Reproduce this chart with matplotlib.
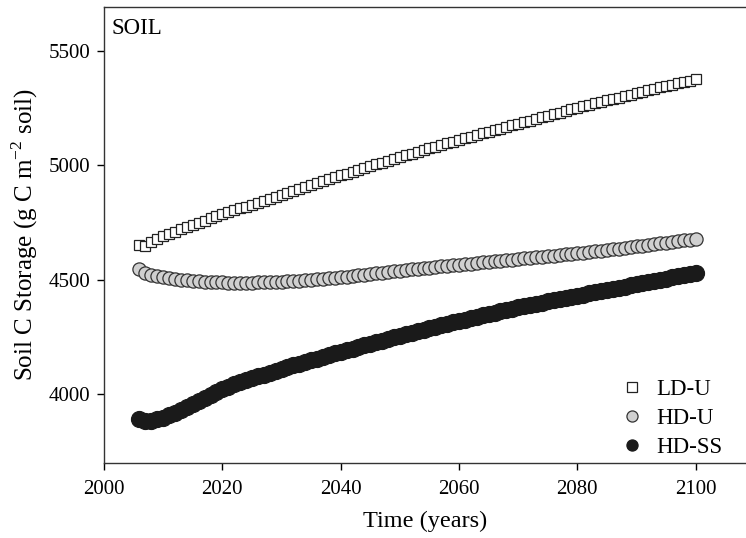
import numpy as np
import matplotlib
matplotlib.use('Agg')
import matplotlib.pyplot as plt

plt.rcParams['font.family'] = ['Liberation Serif', 'DejaVu Serif']

# years 2006..2100, one value per year
years = list(range(2006, 2101))

ld_u = [4652, 4648, 4664, 4677, 4690, 4700, 4710, 4719, 4729, 4738,
        4748, 4757, 4767, 4776, 4785, 4794, 4802, 4811, 4819, 4828,
        4836, 4845, 4853, 4862, 4870, 4879, 4887, 4896, 4904, 4913,
        4921, 4930, 4938, 4947, 4955, 4963, 4971, 4979, 4987, 4995,
        5003, 5011, 5019, 5027, 5035, 5043, 5050, 5058, 5065, 5073,
        5080, 5088, 5095, 5103, 5110, 5117, 5124, 5131, 5138, 5145,
        5152, 5159, 5166, 5173, 5180, 5187, 5194, 5201, 5208, 5215,
        5222, 5229, 5236, 5243, 5250, 5256, 5263, 5269, 5276, 5282,
        5289, 5295, 5302, 5308, 5315, 5321, 5327, 5333, 5339, 5345,
        5351, 5357, 5363, 5369, 5376]

hd_u = [4548, 4530, 4522, 4515, 4510, 4506, 4502, 4499, 4497, 4495,
        4493, 4491, 4490, 4489, 4488, 4487, 4487, 4487, 4487, 4487,
        4488, 4489, 4490, 4491, 4492, 4493, 4495, 4496, 4498, 4500,
        4502, 4504, 4506, 4508, 4510, 4513, 4516, 4519, 4522, 4525,
        4528, 4531, 4534, 4537, 4540, 4543, 4545, 4548, 4550, 4553,
        4555, 4558, 4560, 4563, 4565, 4568, 4570, 4573, 4575, 4578,
        4580, 4583, 4585, 4588, 4590, 4593, 4595, 4598, 4600, 4603,
        4605, 4608, 4610, 4613, 4615, 4618, 4621, 4624, 4627, 4630,
        4633, 4636, 4639, 4642, 4645, 4648, 4652, 4655, 4659, 4662,
        4665, 4668, 4671, 4674, 4678]

hd_ss = [3893, 3882, 3884, 3890, 3898, 3908, 3919, 3931, 3944, 3958,
         3971, 3985, 3998, 4011, 4023, 4033, 4043, 4052, 4061, 4070,
         4078, 4086, 4094, 4102, 4110, 4118, 4126, 4133, 4141, 4148,
         4156, 4163, 4171, 4178, 4185, 4192, 4199, 4206, 4213, 4220,
         4227, 4234, 4241, 4248, 4255, 4262, 4268, 4275, 4281, 4288,
         4294, 4301, 4307, 4314, 4320, 4326, 4332, 4338, 4344, 4350,
         4356, 4362, 4368, 4374, 4380, 4385, 4390, 4395, 4400, 4405,
         4410, 4415, 4420, 4425, 4430, 4435, 4440, 4445, 4450, 4455,
         4460, 4465, 4470, 4475, 4480, 4485, 4490, 4495, 4500, 4505,
         4510, 4515, 4520, 4525, 4530]

x_ticks = [2000, 2020, 2040, 2060, 2080, 2100]
y_ticks = [4000, 4500, 5000, 5500]

fig = plt.figure(figsize=(7.46, 5.38), dpi=100)
ax = fig.add_axes([0.1394, 0.1394, 0.8606, 0.8476])

ax.plot(years, ld_u, ls='none', marker='s', ms=7.8, mfc='white', mec='#222222', mew=0.9, label='LD-U')
ax.plot(years, hd_u, ls='none', marker='o', ms=9.5, mfc='#d0d0d0', mec='#333333', mew=0.9, label='HD-U')
ax.plot(years, hd_ss, ls='none', marker='o', ms=11.5, mfc='#1a1a1a', mec='#1a1a1a', mew=0.9, label='HD-SS')

ax.set_xlim(2000, 2108.5)
ax.set_ylim(3700, 5690)
ax.set_xticks(x_ticks)
ax.set_yticks(y_ticks)
ax.tick_params(direction='out', length=5, width=1, labelsize=15, top=False, right=False)
ax.tick_params(axis='x', pad=7)
ax.tick_params(axis='y', pad=5)
ax.spines['right'].set_visible(False)
for s in ['left', 'top', 'bottom']:
    ax.spines[s].set_linewidth(1.0)
    ax.spines[s].set_color('#333333')

ax.set_xlabel('Time (years)', fontsize=17.5, labelpad=9)
ax.set_ylabel('Soil C Storage (g C m$^{\\mathregular{-2}}$ soil)', fontsize=18, labelpad=6)
ax.text(0.012, 0.975, 'SOIL', transform=ax.transAxes, fontsize=16.5, va='top', ha='left')

leg = ax.legend(loc='lower right', frameon=False, fontsize=16.5,
                handlelength=0.9, handletextpad=0.6, labelspacing=0.35,
                bbox_to_anchor=(0.995, -0.035))
for h, ms in zip(leg.legend_handles, [7.0, 8.0, 8.0]):
    h.set_markersize(ms)

fig.savefig('out.png', dpi=100)
